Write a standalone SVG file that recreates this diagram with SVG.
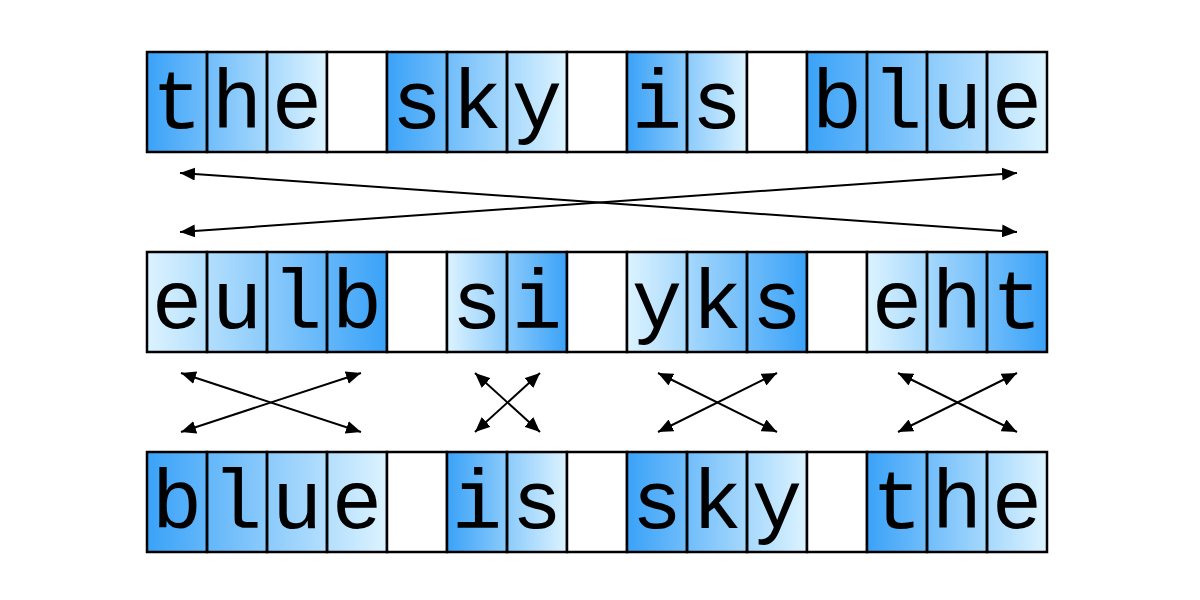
<svg xmlns="http://www.w3.org/2000/svg" width="1200" height="600" viewBox="0 0 1200 600">
<defs>
<linearGradient id="ltr" x1="0" y1="0" x2="1" y2="0"><stop offset="0" stop-color="#3aa2f8"/><stop offset="1" stop-color="#dcf3ff"/></linearGradient>
<linearGradient id="rtl" x1="1" y1="0" x2="0" y2="0"><stop offset="0" stop-color="#3aa2f8"/><stop offset="1" stop-color="#dcf3ff"/></linearGradient>
<marker id="ah" markerUnits="userSpaceOnUse" markerWidth="15" markerHeight="13" viewBox="0 0 15 13" refX="15" refY="6.5" orient="auto-start-reverse"><path d="M0,0 L15,6.5 L0,13 z" fill="#000"/></marker>
<style>
.cell{fill:none;stroke:#000;stroke-width:2.5}
.blank{fill:#fff;stroke:#000;stroke-width:2.5}
.ch{font-family:"Liberation Mono","Courier New",monospace;font-size:84px;fill:#000;text-anchor:middle}
.arr{stroke:#000;stroke-width:2;fill:none;marker-start:url(#ah);marker-end:url(#ah)}
</style>
</defs>
<rect width="1200" height="600" fill="#fff"/>
<!-- Row 1 -->
<g id="row1">
<g id="r1-the"><rect x="147" y="52" width="180" height="100" fill="url(#ltr)"/>
<rect class="cell" x="147" y="52" width="60" height="100"/><rect class="cell" x="207" y="52" width="60" height="100"/><rect class="cell" x="267" y="52" width="60" height="100"/>
<text class="ch" x="177" y="128">t</text><text class="ch" x="237" y="128">h</text><text class="ch" x="297" y="128">e</text></g>
<rect class="blank" x="327" y="52" width="60" height="100"/>
<g id="r1-sky"><rect x="387" y="52" width="180" height="100" fill="url(#ltr)"/>
<rect class="cell" x="387" y="52" width="60" height="100"/><rect class="cell" x="447" y="52" width="60" height="100"/><rect class="cell" x="507" y="52" width="60" height="100"/>
<text class="ch" x="417" y="128">s</text><text class="ch" x="477" y="128">k</text><text class="ch" x="537" y="128">y</text></g>
<rect class="blank" x="567" y="52" width="60" height="100"/>
<g id="r1-is"><rect x="627" y="52" width="120" height="100" fill="url(#ltr)"/>
<rect class="cell" x="627" y="52" width="60" height="100"/><rect class="cell" x="687" y="52" width="60" height="100"/>
<text class="ch" x="657" y="128">i</text><text class="ch" x="717" y="128">s</text></g>
<rect class="blank" x="747" y="52" width="60" height="100"/>
<g id="r1-blue"><rect x="807" y="52" width="240" height="100" fill="url(#ltr)"/>
<rect class="cell" x="807" y="52" width="60" height="100"/><rect class="cell" x="867" y="52" width="60" height="100"/><rect class="cell" x="927" y="52" width="60" height="100"/><rect class="cell" x="987" y="52" width="60" height="100"/>
<text class="ch" x="837" y="128">b</text><text class="ch" x="897" y="128">l</text><text class="ch" x="957" y="128">u</text><text class="ch" x="1017" y="128">e</text></g>
</g>
<!-- Row 2 -->
<g id="row2">
<g id="r2-eulb"><rect x="147" y="252" width="240" height="100" fill="url(#rtl)"/>
<rect class="cell" x="147" y="252" width="60" height="100"/><rect class="cell" x="207" y="252" width="60" height="100"/><rect class="cell" x="267" y="252" width="60" height="100"/><rect class="cell" x="327" y="252" width="60" height="100"/>
<text class="ch" x="177" y="328">e</text><text class="ch" x="237" y="328">u</text><text class="ch" x="297" y="328">l</text><text class="ch" x="357" y="328">b</text></g>
<rect class="blank" x="387" y="252" width="60" height="100"/>
<g id="r2-si"><rect x="447" y="252" width="120" height="100" fill="url(#rtl)"/>
<rect class="cell" x="447" y="252" width="60" height="100"/><rect class="cell" x="507" y="252" width="60" height="100"/>
<text class="ch" x="477" y="328">s</text><text class="ch" x="537" y="328">i</text></g>
<rect class="blank" x="567" y="252" width="60" height="100"/>
<g id="r2-yks"><rect x="627" y="252" width="180" height="100" fill="url(#rtl)"/>
<rect class="cell" x="627" y="252" width="60" height="100"/><rect class="cell" x="687" y="252" width="60" height="100"/><rect class="cell" x="747" y="252" width="60" height="100"/>
<text class="ch" x="657" y="328">y</text><text class="ch" x="717" y="328">k</text><text class="ch" x="777" y="328">s</text></g>
<rect class="blank" x="807" y="252" width="60" height="100"/>
<g id="r2-eht"><rect x="867" y="252" width="180" height="100" fill="url(#rtl)"/>
<rect class="cell" x="867" y="252" width="60" height="100"/><rect class="cell" x="927" y="252" width="60" height="100"/><rect class="cell" x="987" y="252" width="60" height="100"/>
<text class="ch" x="897" y="328">e</text><text class="ch" x="957" y="328">h</text><text class="ch" x="1017" y="328">t</text></g>
</g>
<!-- Row 3 -->
<g id="row3">
<g id="r3-blue"><rect x="147" y="452" width="240" height="100" fill="url(#ltr)"/>
<rect class="cell" x="147" y="452" width="60" height="100"/><rect class="cell" x="207" y="452" width="60" height="100"/><rect class="cell" x="267" y="452" width="60" height="100"/><rect class="cell" x="327" y="452" width="60" height="100"/>
<text class="ch" x="177" y="528">b</text><text class="ch" x="237" y="528">l</text><text class="ch" x="297" y="528">u</text><text class="ch" x="357" y="528">e</text></g>
<rect class="blank" x="387" y="452" width="60" height="100"/>
<g id="r3-is"><rect x="447" y="452" width="120" height="100" fill="url(#ltr)"/>
<rect class="cell" x="447" y="452" width="60" height="100"/><rect class="cell" x="507" y="452" width="60" height="100"/>
<text class="ch" x="477" y="528">i</text><text class="ch" x="537" y="528">s</text></g>
<rect class="blank" x="567" y="452" width="60" height="100"/>
<g id="r3-sky"><rect x="627" y="452" width="180" height="100" fill="url(#ltr)"/>
<rect class="cell" x="627" y="452" width="60" height="100"/><rect class="cell" x="687" y="452" width="60" height="100"/><rect class="cell" x="747" y="452" width="60" height="100"/>
<text class="ch" x="657" y="528">s</text><text class="ch" x="717" y="528">k</text><text class="ch" x="777" y="528">y</text></g>
<rect class="blank" x="807" y="452" width="60" height="100"/>
<g id="r3-the"><rect x="867" y="452" width="180" height="100" fill="url(#ltr)"/>
<rect class="cell" x="867" y="452" width="60" height="100"/><rect class="cell" x="927" y="452" width="60" height="100"/><rect class="cell" x="987" y="452" width="60" height="100"/>
<text class="ch" x="897" y="528">t</text><text class="ch" x="957" y="528">h</text><text class="ch" x="1017" y="528">e</text></g>
</g>
<!-- Connectors -->
<g id="connectors">
<line class="arr" x1="180" y1="173" x2="1017" y2="232"/>
<line class="arr" x1="180" y1="232" x2="1017" y2="173"/>
<line class="arr" x1="181" y1="373" x2="361" y2="432"/>
<line class="arr" x1="181" y1="432" x2="361" y2="373"/>
<line class="arr" x1="475" y1="373" x2="540" y2="432"/>
<line class="arr" x1="475" y1="432" x2="540" y2="373"/>
<line class="arr" x1="658" y1="373" x2="777" y2="432"/>
<line class="arr" x1="658" y1="432" x2="777" y2="373"/>
<line class="arr" x1="898" y1="373" x2="1017" y2="432"/>
<line class="arr" x1="898" y1="432" x2="1017" y2="373"/>
</g>
</svg>
